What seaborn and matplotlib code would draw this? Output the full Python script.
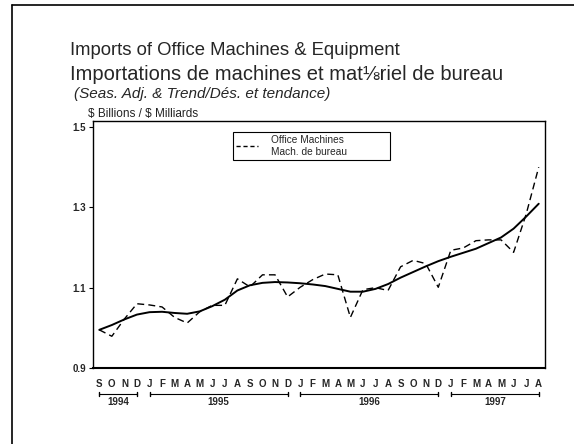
import numpy as np
import pandas as pd
import matplotlib
matplotlib.use("Agg")
import matplotlib.pyplot as plt
import matplotlib.transforms as mtransforms
from matplotlib.lines import Line2D
import seaborn as sns

# ---- data ----
months = ["S", "O", "N", "D",
          "J", "F", "M", "A", "M", "J", "J", "A", "S", "O", "N", "D",
          "J", "F", "M", "A", "M", "J", "J", "A", "S", "O", "N", "D",
          "J", "F", "M", "A", "M", "J", "J", "A"]
years = [1994] * 4 + [1995] * 12 + [1996] * 12 + [1997] * 8
actual = [0.995, 0.979, 1.022, 1.060,
          1.057, 1.052, 1.026, 1.012, 1.040, 1.056, 1.056, 1.122, 1.102, 1.132, 1.132, 1.077,
          1.101, 1.120, 1.134, 1.132, 1.026, 1.095, 1.100, 1.093, 1.152, 1.168, 1.160, 1.101,
          1.193, 1.199, 1.217, 1.219, 1.219, 1.188, 1.283, 1.400]
trend = [0.995, 1.007, 1.021, 1.033,
         1.039, 1.040, 1.037, 1.035, 1.041, 1.054, 1.070, 1.093, 1.106, 1.112, 1.114, 1.113,
         1.111, 1.108, 1.104, 1.097, 1.090, 1.090, 1.097, 1.109, 1.125, 1.139, 1.153, 1.166,
         1.177, 1.187, 1.197, 1.211, 1.225, 1.247, 1.277, 1.309]
yticks = [0.9, 1.1, 1.3, 1.5]
ytick_labels = ["0.9", "1.1", "1.3", "1.5"]
title1 = "Imports of Office Machines & Equipment"
title2 = "Importations de machines et mat\u215briel de bureau"
title3 = "(Seas. Adj. & Trend/D\u00e9s. et tendance)"
ylabel = "\\$ Billions / \\$ Milliards"
legend_label = "Office Machines\nMach. de bureau"

sns.set_theme(style="white")
plt.rcParams["font.family"] = ["Liberation Sans", "DejaVu Sans"]

W, H = 574, 444
fig = plt.figure(figsize=(W / 100, H / 100), dpi=100)
ax = fig.add_axes([93 / W, 1 - 368 / H, (545 - 93) / W, (368 - 121) / H])

df = pd.DataFrame({"idx": np.arange(len(months)), "actual": actual, "trend": trend})
sns.lineplot(data=df, x="idx", y="actual", ax=ax, color="black", lw=1.0,
             linestyle=(0, (5, 3)), legend=False)
sns.lineplot(data=df, x="idx", y="trend", ax=ax, color="black", lw=1.4, legend=False)

ax.set_xlim(-0.5, len(months) - 0.5)
ax.set_ylim(0.9, 1.515)
ax.set_xlabel("")
ax.set_ylabel("")

ax.set_xticks(df["idx"])
ax.set_xticklabels(months, fontweight="bold", fontsize=7)
ax.tick_params(axis="x", length=0, pad=8, bottom=False)
ax.set_yticks(yticks)
ax.set_yticklabels(ytick_labels, fontweight="bold", fontsize=7)
ax.tick_params(axis="y", left=True, length=3, width=0.8, direction="out", pad=2, color="black")
for s in ax.spines.values():
    s.set_color("black")
    s.set_linewidth(1.0)
ax.spines["bottom"].set_linewidth(1.5)

# year brackets
trans = mtransforms.blended_transform_factory(ax.transData, ax.transAxes)
for yr in sorted(set(years)):
    idxs = [i for i, y in enumerate(years) if y == yr]
    x0, x1 = min(idxs), max(idxs)
    ax.plot([x0, x1], [-0.105, -0.105], transform=trans, clip_on=False, color="black", lw=0.8)
    for xe in (x0, x1):
        ax.plot([xe, xe], [-0.113, -0.097], transform=trans, clip_on=False, color="black", lw=1.0)
    ax.text((x0 + x1) / 2, -0.138, str(yr), transform=trans, ha="center", va="center",
            fontsize=7, fontweight="bold")

# legend (box wider than its content, as in the reference)
handle = Line2D([], [], color="black", lw=1.0, linestyle=(0, (3, 2)))
leg = ax.legend([handle], [legend_label], loc="upper left",
                bbox_to_anchor=(0.31, 0.80, 0.347, 0.155), mode="expand",
                frameon=True, fancybox=False, edgecolor="black", fontsize=7.3,
                handlelength=2.2, borderpad=0.3, framealpha=1, handletextpad=1.2,
                borderaxespad=0)
leg.get_frame().set_linewidth(0.8)

# titles
fig.text(70 / W, 1 - 55 / H, title1, fontsize=13.3, va="baseline")
fig.text(70 / W, 1 - 80 / H, title2, fontsize=14.5, va="baseline")
fig.text(74 / W, 1 - 98 / H, title3, fontsize=11, style="italic", va="baseline")
fig.text(88 / W, 1 - 117 / H, ylabel, fontsize=8.5, va="baseline", color="#222222")

# outer frame (cut off at right and bottom)
fig.add_artist(Line2D([12 / W, 12 / W], [1 - 5 / H, 0], transform=fig.transFigure,
                      color="black", lw=1.2))
fig.add_artist(Line2D([12 / W, 1], [1 - 5 / H, 1 - 5 / H], transform=fig.transFigure,
                      color="black", lw=1.2))

fig.savefig("out.png", dpi=100)
